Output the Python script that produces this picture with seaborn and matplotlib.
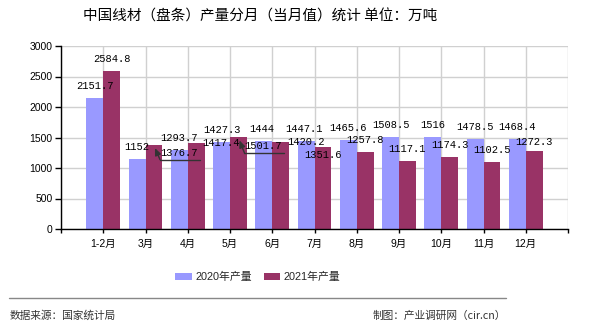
import matplotlib
matplotlib.use('Agg')
import matplotlib.pyplot as plt
import seaborn as sns
import pandas as pd
from matplotlib.lines import Line2D
from matplotlib.patches import Patch

categories = ['1-2月', '3月', '4月', '5月', '6月', '7月', '8月', '9月', '10月', '11月', '12月']
values_2020 = [2151.7, 1152, 1293.7, 1427.3, 1444, 1447.1, 1465.6, 1508.5, 1516, 1478.5, 1468.4]
values_2021 = [2584.8, 1376.7, 1417.4, 1501.7, 1420.2, 1351.6, 1257.8, 1117.1, 1174.3, 1102.5, 1272.3]
series = ['2020年产量', '2021年产量']
colors = ['#9999FF', '#993366']
yticks = [0, 500, 1000, 1500, 2000, 2500, 3000]
title = '中国线材（盘条）产量分月（当月值）统计 单位：万吨'
source_text = '数据来源：国家统计局'
credit_text = '制图：产业调研网（cir.cn）'

df = pd.DataFrame({
    '月份': categories * 2,
    '产量': values_2020 + values_2021,
    '系列': [series[0]] * len(categories) + [series[1]] * len(categories),
})

sns.set_theme(style='white')
plt.rcParams['font.family'] = ['Noto Sans CJK SC', 'DejaVu Sans']
mono = ['Liberation Mono', 'Noto Sans CJK SC']
sans = ['Liberation Sans', 'Noto Sans CJK SC']

W, H = 590, 330
fig = plt.figure(figsize=(W / 100, H / 100), dpi=100)
fig.patch.set_facecolor('white')
ax = fig.add_axes([61 / W, 1 - 229 / H, (568 - 61) / W, (229 - 46) / H])

sns.barplot(data=df, x='月份', y='产量', hue='系列', hue_order=series,
            palette=colors, saturation=1, width=0.8, errorbar=None,
            legend=False, linewidth=0, edgecolor='none', ax=ax)

ax.set_xlim(-1, 11)
ax.set_ylim(0, 3000)
ax.set_xticks(range(-1, len(categories) + 1))
ax.set_xticklabels([''] + categories + [''])
ax.set_yticks(yticks)
ax.set_yticklabels([str(v) for v in yticks])
ax.set_xlabel('')
ax.set_ylabel('')
ax.grid(True, color='#d0d0d0', lw=1)
ax.set_axisbelow(True)
for s in ['top', 'right']:
    ax.spines[s].set_visible(False)
for s in ['left', 'bottom']:
    ax.spines[s].set_color('black')
    ax.spines[s].set_linewidth(1)
ax.tick_params(axis='y', which='major', direction='out', length=4.5, width=1,
               color='black', labelsize=7.5, pad=1.5, left=True, labelcolor='black')
ax.tick_params(axis='x', which='major', direction='out', length=3, width=1,
               color='black', labelsize=7.5, pad=4, bottom=True, labelcolor='black')
for lbl in ax.get_xticklabels() + ax.get_yticklabels():
    lbl.set_fontfamily(sans)

# label offsets in pixels (dx right, dy up) where labels were moved to avoid overlaps
label_offsets = {
    (0, 4): (-2.5, 12), (0, 5): (-2.5, 12),
    (1, 1): (25, -8), (1, 2): (25, 0), (1, 3): (25, -9),
    (1, 4): (25, 0), (1, 5): (0, -8), (1, 10): (0, 9),
}
leader = {(1, 1), (1, 3)}
all_vals = [values_2020, values_2021]
leader_points = []
for si, cont in enumerate(ax.containers):
    for ci, bar in enumerate(cont):
        x = bar.get_x() + bar.get_width() / 2
        h = bar.get_height()
        dx, dy = label_offsets.get((si, ci), (0, 12))
        ax.annotate(f'{all_vals[si][ci]:g}', xy=(x, h), xytext=(dx * 0.72, dy * 0.72),
                    textcoords='offset points', ha='center', va='center',
                    fontsize=7.5, family=mono, color='black',
                    annotation_clip=False)
        if (si, ci) in leader:
            leader_points.append((x, h, dy))

# leader lines (pixel offsets relative to bar top)
for x, h, dy in leader_points:
    px, py = ax.transData.transform((x, h))
    tip = (px + 1, py - 3)
    corner = (px + 6, py + (dy - 6.5))
    end = (px + 46, py + (dy - 6.5))
    fig.add_artist(Line2D([corner[0], end[0]], [corner[1], end[1]],
                          transform=None, color='#333333', lw=1))
    ax.annotate('', xy=tip, xytext=corner, xycoords='figure pixels',
                textcoords='figure pixels', annotation_clip=False,
                arrowprops=dict(arrowstyle='-|>,head_length=0.35,head_width=0.15',
                                color='#333333', lw=1, shrinkA=0, shrinkB=0))

fig.text(260.5 / W, 1 - 17 / H, title, ha='center', va='center', fontsize=10.5,
         color='black')

handles = [Patch(facecolor=c, edgecolor='none', label=s) for c, s in zip(colors, series)]
fig.legend(handles=handles, loc='center', bbox_to_anchor=(258 / W, 1 - 277 / H),
           ncol=2, frameon=False, prop={'family': sans, 'size': 7.8},
           handlelength=1.5, handleheight=0.64, handletextpad=0.35,
           columnspacing=1.1)

fig.add_artist(Line2D([9 / W, 506 / W], [1 - 298 / H] * 2, color='#888888', lw=1))
fig.text(10 / W, 1 - 316 / H, source_text, ha='left', va='center', fontsize=7.7,
         color='#333333')
fig.text(506 / W, 1 - 316 / H, credit_text, ha='right', va='center', fontsize=7.7,
         color='#333333')

fig.savefig('out.png', dpi=100, facecolor='white')
